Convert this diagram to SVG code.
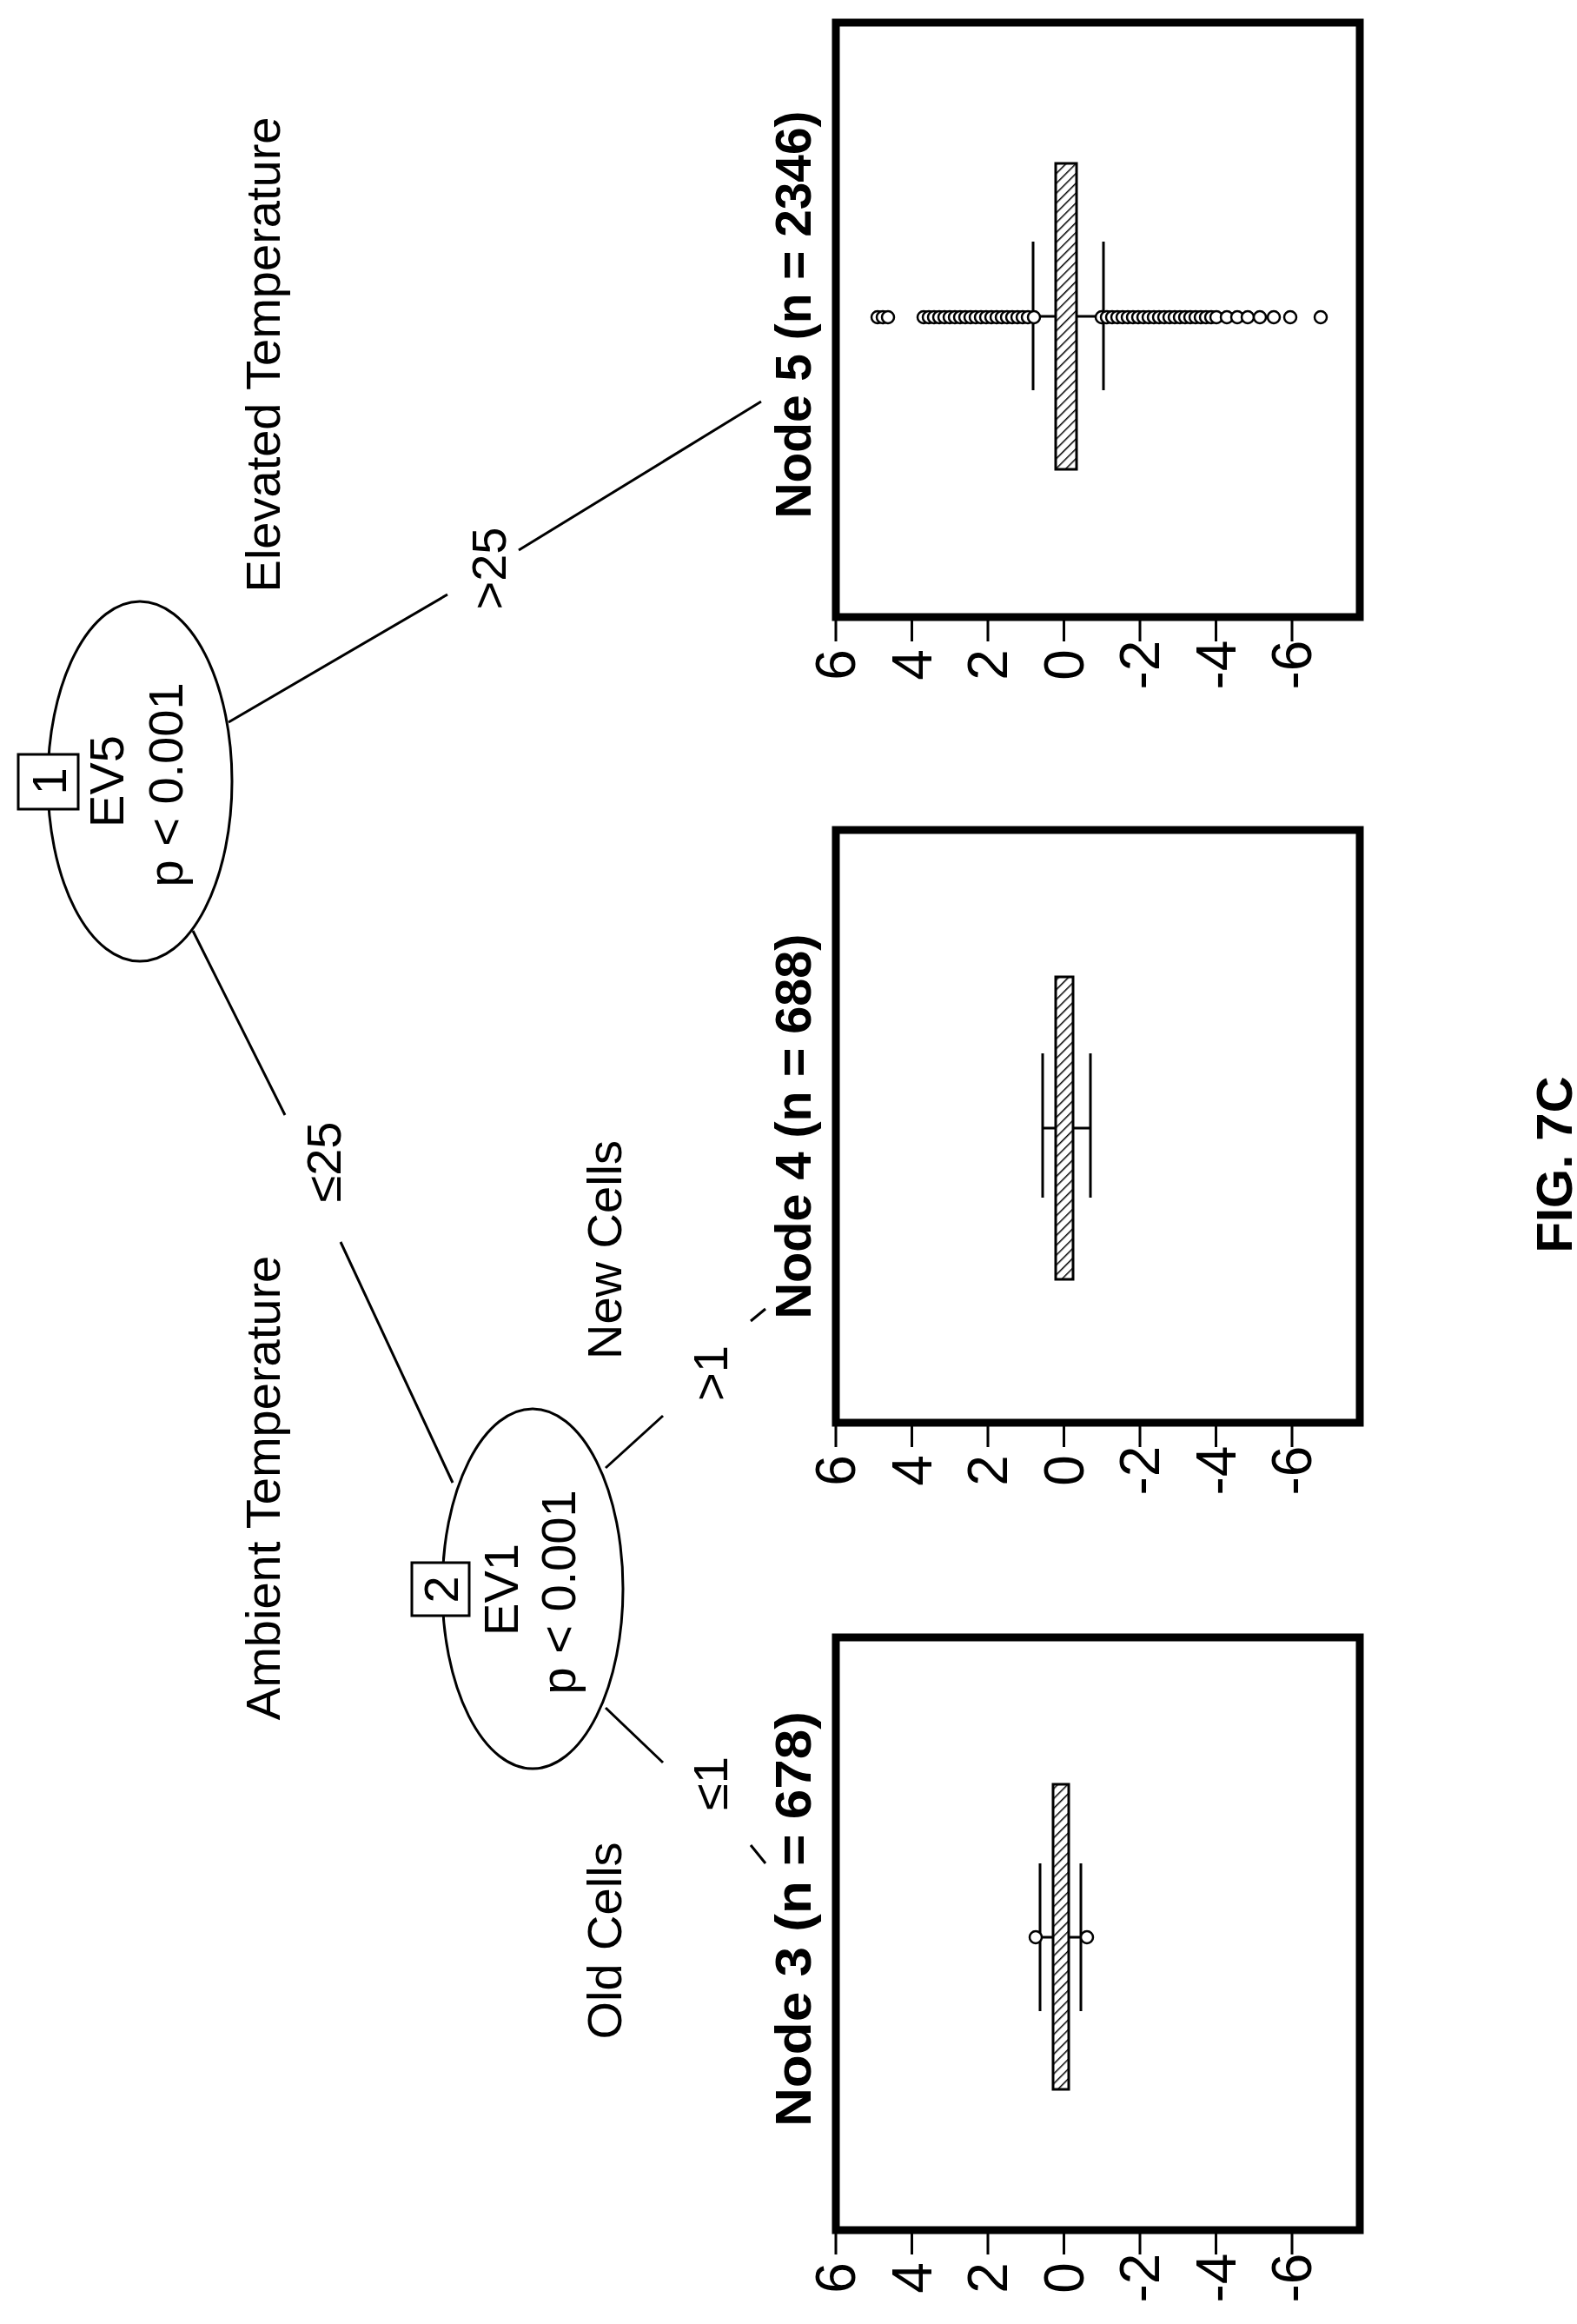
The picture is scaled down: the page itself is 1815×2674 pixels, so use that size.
<svg xmlns="http://www.w3.org/2000/svg" width="1815" height="2674" viewBox="0 0 1815 2674">
<style>
text{font-family:"Liberation Sans",Arial,sans-serif;fill:#000}
.t{font-size:56px}
.b{font-size:58px;font-weight:bold}
.ax{font-size:64px}
.frame{fill:none;stroke:#000;stroke-width:9}
.ln{stroke:#000;stroke-width:3;fill:none}
.ell{fill:#fff;stroke:#000;stroke-width:3}
.box{fill:url(#hatch);stroke:#000;stroke-width:3}
.oc{fill:#fff;stroke:#000;stroke-width:2.5}
</style>
<defs>
<pattern id="hatch" width="8" height="8" patternUnits="userSpaceOnUse" patternTransform="rotate(45)">
<rect width="8" height="8" fill="#fff"/><line x1="0" y1="0" x2="0" y2="8" stroke="#000" stroke-width="3"/>
</pattern>
<g id="axis">
<path class="ln" d="M962,0v28M1049.5,0v28M1137,0v28M1224.5,0v28M1312,0v28M1399.5,0v28M1487,0v28"/>
</g>
</defs>
<rect width="1815" height="2674" fill="#fff"/>
<g id="connectors">
<path class="ln" d="M263,831L515,684M597,633L876,462"/>
<path class="ln" d="M222,1071L328,1283M392,1429L521,1706"/>
<path class="ln" d="M697,1689L763,1629M864,1520L881,1506"/>
<path class="ln" d="M697,1965L763,2028M864,2123L881,2144"/>
<text class="t" transform="translate(562,654) rotate(-90)" text-anchor="middle" dominant-baseline="central">&gt;25</text>
<text class="t" transform="translate(372,1337) rotate(-90)" text-anchor="middle" dominant-baseline="central">≤25</text>
<text class="t" transform="translate(817,1580) rotate(-90)" text-anchor="middle" dominant-baseline="central">&gt;1</text>
<text class="t" transform="translate(817,2052) rotate(-90)" text-anchor="middle" dominant-baseline="central">≤1</text>
</g>
<g id="labels">
<text class="t" transform="translate(302,408) rotate(-90)" text-anchor="middle" dominant-baseline="central">Elevated Temperature</text>
<text class="t" transform="translate(302,1712) rotate(-90)" text-anchor="middle" dominant-baseline="central">Ambient Temperature</text>
<text class="t" transform="translate(695,1438) rotate(-90)" text-anchor="middle" dominant-baseline="central">New Cells</text>
<text class="t" transform="translate(695,2233) rotate(-90)" text-anchor="middle" dominant-baseline="central">Old Cells</text>
<text class="b" transform="translate(1788,1340) rotate(-90)" text-anchor="middle" dominant-baseline="central" font-size="64">FIG. 7C</text>
</g>
<g id="node1">
<ellipse class="ell" cx="161" cy="899" rx="106" ry="207"/>
<rect x="21" y="868" width="69" height="63" fill="#fff" stroke="#000" stroke-width="3"/>
<text class="t" transform="translate(56,899) rotate(-90)" text-anchor="middle" dominant-baseline="central">1</text>
<text class="t" transform="translate(122,899) rotate(-90)" text-anchor="middle" dominant-baseline="central">EV5</text>
<text class="t" transform="translate(190,903) rotate(-90)" text-anchor="middle" dominant-baseline="central">p &lt; 0.001</text>
</g>
<g id="node2">
<ellipse class="ell" cx="613" cy="1828" rx="104" ry="207"/>
<rect x="474" y="1798" width="66" height="61" fill="#fff" stroke="#000" stroke-width="3"/>
<text class="t" transform="translate(507,1829) rotate(-90)" text-anchor="middle" dominant-baseline="central">2</text>
<text class="t" transform="translate(576,1829) rotate(-90)" text-anchor="middle" dominant-baseline="central">EV1</text>
<text class="t" transform="translate(642,1832) rotate(-90)" text-anchor="middle" dominant-baseline="central">p &lt; 0.001</text>
</g>
<g id="node5">
<text class="b" transform="translate(912,362) rotate(-90)" text-anchor="middle" dominant-baseline="central" textLength="469" lengthAdjust="spacingAndGlyphs">Node 5 (n = 2346)</text>
<rect class="frame" x="962" y="26" width="603" height="684"/>
<use href="#axis" y="710"/>
<g class="ax" text-anchor="middle" dominant-baseline="central">
<text transform="translate(962,765) rotate(-90)">6</text><text transform="translate(1049.5,765) rotate(-90)">4</text><text transform="translate(1137,765) rotate(-90)">2</text><text transform="translate(1224.5,765) rotate(-90)">0</text><text transform="translate(1312,765) rotate(-90)">-2</text><text transform="translate(1399.5,765) rotate(-90)">-4</text><text transform="translate(1487,765) rotate(-90)">-6</text>
</g>
<path class="ln" d="M1189,278v171M1270,278v171M1189,364h81"/>
<rect class="box" x="1215" y="188" width="24" height="352"/>
<g class="oc">
<circle cx="1010" cy="365" r="7"/><circle cx="1016" cy="365" r="7"/><circle cx="1022" cy="365" r="7"/>
<circle cx="1063" cy="365" r="7"/><circle cx="1069" cy="365" r="7"/><circle cx="1075" cy="365" r="7"/><circle cx="1081" cy="365" r="7"/><circle cx="1087" cy="365" r="7"/><circle cx="1093" cy="365" r="7"/><circle cx="1099" cy="365" r="7"/><circle cx="1105" cy="365" r="7"/><circle cx="1111" cy="365" r="7"/><circle cx="1117" cy="365" r="7"/><circle cx="1123" cy="365" r="7"/><circle cx="1129" cy="365" r="7"/><circle cx="1135" cy="365" r="7"/><circle cx="1141" cy="365" r="7"/><circle cx="1147" cy="365" r="7"/><circle cx="1153" cy="365" r="7"/><circle cx="1159" cy="365" r="7"/><circle cx="1165" cy="365" r="7"/><circle cx="1171" cy="365" r="7"/><circle cx="1177" cy="365" r="7"/><circle cx="1183" cy="365" r="7"/><circle cx="1190" cy="365" r="7"/>
<circle cx="1268" cy="365" r="7"/><circle cx="1274" cy="365" r="7"/><circle cx="1280" cy="365" r="7"/><circle cx="1286" cy="365" r="7"/><circle cx="1292" cy="365" r="7"/><circle cx="1298" cy="365" r="7"/><circle cx="1304" cy="365" r="7"/><circle cx="1310" cy="365" r="7"/><circle cx="1316" cy="365" r="7"/><circle cx="1322" cy="365" r="7"/><circle cx="1328" cy="365" r="7"/><circle cx="1334" cy="365" r="7"/><circle cx="1340" cy="365" r="7"/><circle cx="1346" cy="365" r="7"/><circle cx="1352" cy="365" r="7"/><circle cx="1358" cy="365" r="7"/><circle cx="1364" cy="365" r="7"/><circle cx="1370" cy="365" r="7"/><circle cx="1376" cy="365" r="7"/><circle cx="1382" cy="365" r="7"/><circle cx="1388" cy="365" r="7"/><circle cx="1394" cy="365" r="7"/><circle cx="1400" cy="365" r="7"/>
<circle cx="1412" cy="365" r="7"/><circle cx="1424" cy="365" r="7"/><circle cx="1436" cy="365" r="7"/><circle cx="1450" cy="365" r="7"/><circle cx="1466" cy="365" r="7"/><circle cx="1485" cy="365" r="7"/><circle cx="1520" cy="365" r="7"/>
</g>
</g>
<g id="node4">
<text class="b" transform="translate(912,1296) rotate(-90)" text-anchor="middle" dominant-baseline="central" textLength="443" lengthAdjust="spacingAndGlyphs">Node 4 (n = 688)</text>
<rect class="frame" x="962" y="955" width="603" height="682"/>
<use href="#axis" y="1637"/>
<g class="ax" text-anchor="middle" dominant-baseline="central">
<text transform="translate(962,1692) rotate(-90)">6</text><text transform="translate(1049.5,1692) rotate(-90)">4</text><text transform="translate(1137,1692) rotate(-90)">2</text><text transform="translate(1224.5,1692) rotate(-90)">0</text><text transform="translate(1312,1692) rotate(-90)">-2</text><text transform="translate(1399.5,1692) rotate(-90)">-4</text><text transform="translate(1487,1692) rotate(-90)">-6</text>
</g>
<path class="ln" d="M1200,1212v166M1255,1212v166M1200,1298h55"/>
<rect class="box" x="1215" y="1124" width="20" height="348"/>
</g>
<g id="node3">
<text class="b" transform="translate(912,2208) rotate(-90)" text-anchor="middle" dominant-baseline="central" textLength="478" lengthAdjust="spacingAndGlyphs">Node 3 (n = 678)</text>
<rect class="frame" x="962" y="1884" width="603" height="682"/>
<use href="#axis" y="2566"/>
<g class="ax" text-anchor="middle" dominant-baseline="central">
<text transform="translate(962,2621) rotate(-90)">6</text><text transform="translate(1049.5,2621) rotate(-90)">4</text><text transform="translate(1137,2621) rotate(-90)">2</text><text transform="translate(1224.5,2621) rotate(-90)">0</text><text transform="translate(1312,2621) rotate(-90)">-2</text><text transform="translate(1399.5,2621) rotate(-90)">-4</text><text transform="translate(1487,2621) rotate(-90)">-6</text>
</g>
<path class="ln" d="M1197,2144v170M1244,2144v170M1197,2229h47"/>
<rect class="box" x="1212" y="2053" width="18" height="351"/>
<circle class="oc" cx="1192" cy="2229" r="7"/><circle class="oc" cx="1251" cy="2229" r="7"/>
</g>
</svg>
